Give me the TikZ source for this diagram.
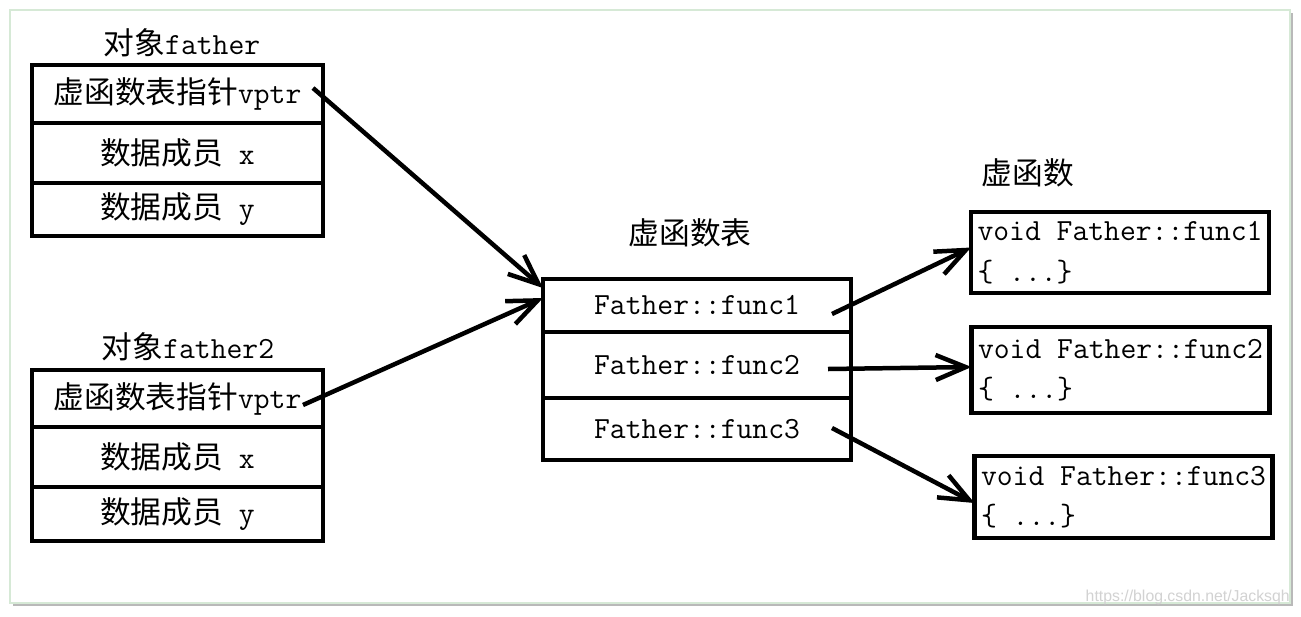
\documentclass[tikz,border=0pt]{standalone}
\usepackage{fontspec}
\usepackage{tikz}
\usetikzlibrary{arrows.meta}
\newfontfamily\cjk{Noto Sans CJK SC}
\newfontfamily\urlfont{Liberation Sans}
\tikzset{
  txt/.style={font=\ttfamily\fontsize{17.5}{23}\selectfont},
  cell/.style={txt,draw,line width=0.09cm,inner sep=0pt,outer sep=0pt},
  objrow/.style={cell,minimum width=5.82cm},
  tabrow/.style={cell,minimum width=6.16cm},
  funcbox/.style={cell,minimum width=5.96cm,align=left},
  arr/.style={line width=0.09cm,-{Straight Barb[length=0.6cm,width=0.5cm]}}
}
\begin{document}
\begin{tikzpicture}[x=0.02cm,y=-0.02cm]
  \fill[white] (0,0) rectangle (1301,616);
  \fill[gray!55] (13,13) rectangle (1293,606);
  \filldraw[fill=white,draw=green!30!gray!25,line width=0.03cm] (10,10) rectangle (1290,603);

     \coordinate (s1) at (313,88);
       \coordinate (s2) at (303,405);
         \coordinate (t1) at (832,314);
           \coordinate (t2) at (828,369);
             \coordinate (t3) at (832,428);

  \node (lfa) at (182,43)[txt]{{\cjk 对象}father};
    \node (fa1) at (177.5,94)[objrow,minimum height=1.16cm]{{\cjk 虚函数表指针}vptr};
    \node (fa2) at (177.5,153)[objrow,minimum height=1.2cm]{{\cjk 数据成员} x};
    \node (fa3) at (177.5,209.5)[objrow,minimum height=1.06cm]{{\cjk 数据成员} y};

  \node (lfb) at (188,347)[txt]{{\cjk 对象}father2};
    \node (fb1) at (177.5,398.5)[objrow,minimum height=1.14cm]{{\cjk 虚函数表指针}vptr};
    \node (fb2) at (177.5,457)[objrow,minimum height=1.2cm]{{\cjk 数据成员} x};
    \node (fb3) at (177.5,514)[objrow,minimum height=1.08cm]{{\cjk 数据成员} y};

  \node (lvt) at (690,233)[txt]{\cjk 虚函数表};
    \node (vt1) at (697,305.5)[tabrow,minimum height=1.06cm]{Father::func1};
    \node (vt2) at (697,365)[tabrow,minimum height=1.32cm]{Father::func2};
    \node (vt3) at (697,429)[tabrow,minimum height=1.24cm]{Father::func3};

  \node (lvf) at (1028,173)[txt]{\cjk 虚函数};
    \node (rb1) at (1120,252.5)[funcbox,minimum height=1.62cm]{void Father::func1\\\{ ...\}};
    \node (rb2) at (1120.5,370)[funcbox,minimum height=1.72cm]{void Father::func2\\\{ ...\}};
    \node (rb3) at (1123.5,497)[funcbox,minimum height=1.64cm]{void Father::func3\\\{ ...\}};

  \draw[arr] (s1) -- ([yshift=0.35cm]vt1.west);
  \draw[arr] (s2) -- ([yshift=0.15cm]vt1.west);
  \draw[arr] (t1) -- ([yshift=0.1cm]rb1.west);
  \draw[arr] (t2) -- ([yshift=0.06cm]rb2.west);
  \draw[arr] (t3) -- ([yshift=-0.12cm]rb3.west);

  \node (url) at (1290,597)[anchor=east,inner sep=0pt,text=gray!35,font=\urlfont\fontsize{9}{10}\selectfont]{https://blog.csdn.net/Jacksqh};
\end{tikzpicture}
\end{document}
